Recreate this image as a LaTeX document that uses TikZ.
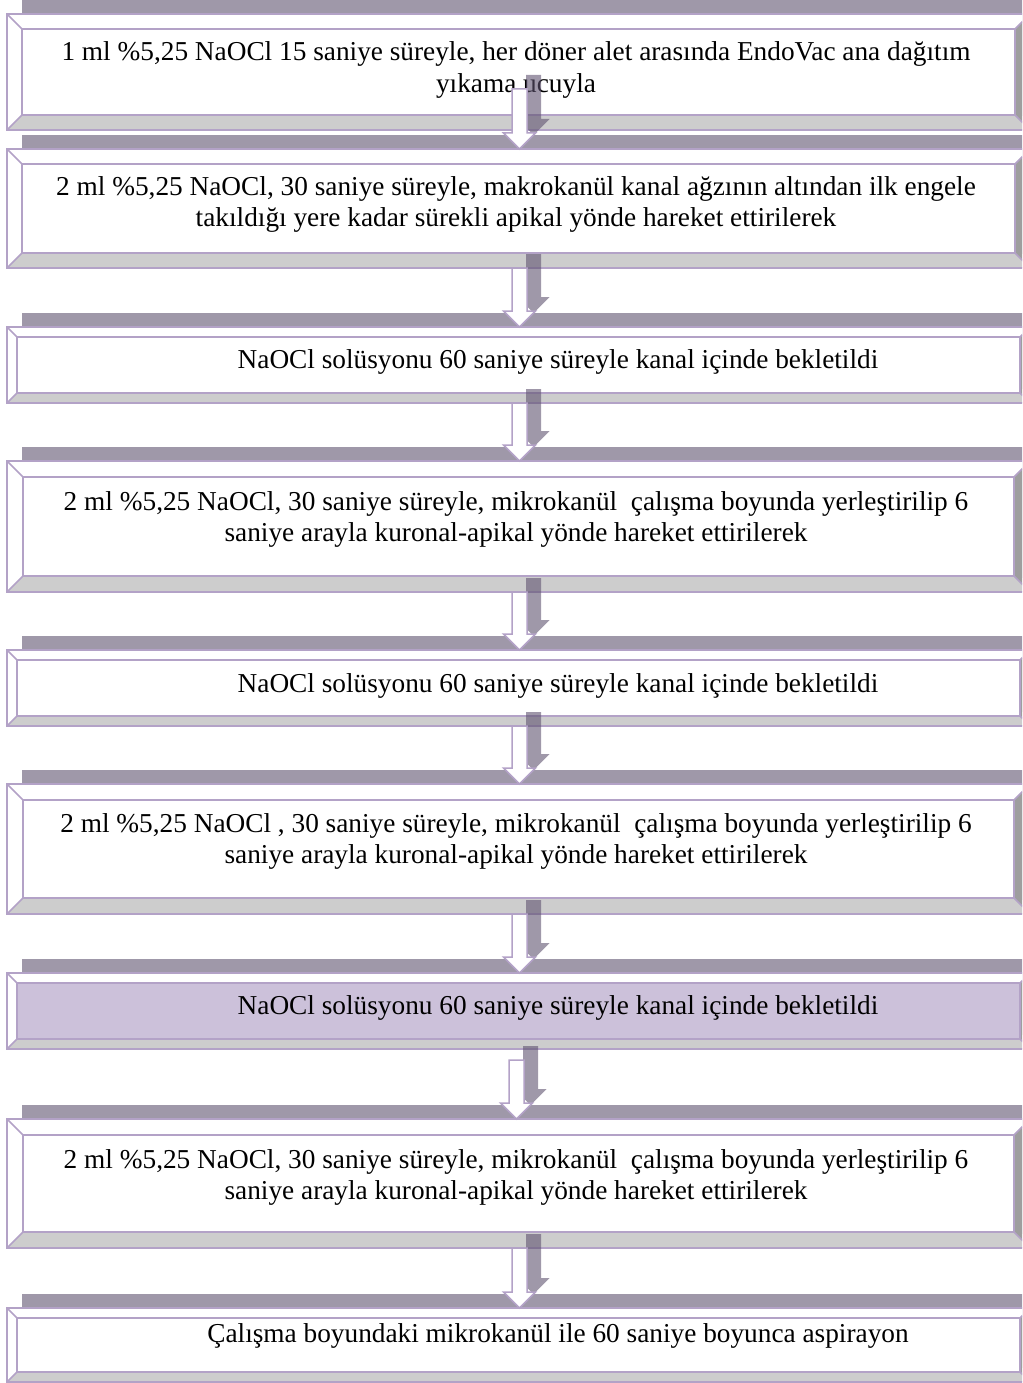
\documentclass[tikz,border=0pt]{standalone}
\usepackage{fontspec}
\setmainfont{Liberation Serif}
\usetikzlibrary{calc}
\definecolor{bevelline}{HTML}{B3A2C7}
\definecolor{barshade}{HTML}{5F5370}
\definecolor{facelow}{HTML}{CDCDCD}
\definecolor{faceright}{HTML}{9E9E9E}
\definecolor{lilac}{HTML}{CCC1DA}
\tikzset{
  stepbox/.style={minimum width=1023pt, minimum height=#1, inner sep=0pt, outer sep=0pt},
  txt/.style={align=center, font=\fontsize{27.3}{31.5}\selectfont, inner sep=0pt},
  shade/.style={fill=barshade, fill opacity=0.6},
  rim/.style={draw=bevelline, line width=1.5pt},
  arrbody/.style={draw=bevelline, line width=1.5pt, fill=white}
}
\newcommand\bevel[3]{%
  \fill[shade] ($(#1.north west)+(15,-14)$) rectangle ($(#1.south east)+(15,-14)$);
  \fill[white] (#1.north west) rectangle (#1.south east);
  \fill[facelow] (#1.south west) -- (#1.south east) -- ($(#1.south east)+(-#2,-#2)$) -- ($(#1.south west)+(#2,-#2)$) -- cycle;
  \fill[faceright] (#1.north east) -- (#1.south east) -- ($(#1.south east)+(-#2,-#2)$) -- ($(#1.north east)+(-#2,#2)$) -- cycle;
  \filldraw[rim, fill=#3] ($(#1.north west)+(#2,#2)$) rectangle ($(#1.south east)+(-#2,-#2)$);
  \draw[rim] (#1.north west) rectangle (#1.south east);
  \draw[rim] (#1.north west) -- ++(#2,#2) (#1.north east) -- ++(-#2,#2)
    (#1.south west) -- ++(#2,-#2) (#1.south east) -- ++(-#2,-#2);
}
\newcommand\flowarrow[2]{%
  \fill[shade] let \p1=#1, \p2=(#2.north) in
    (\x1+6.5pt,\y1+14pt) -- (\x1+21.5pt,\y1+14pt) -- (\x1+21.5pt,\y2+30pt) -- (\x1+30pt,\y2+30pt)
    -- (\x1+14pt,\y2+14pt) -- (\x1-2pt,\y2+30pt) -- (\x1+6.5pt,\y2+30pt) -- cycle;
  \filldraw[arrbody] let \p1=#1, \p2=(#2.north) in
    (\x1-7.5pt,\y1) -- (\x1+7.5pt,\y1) -- (\x1+7.5pt,\y2+16pt) -- (\x1+16pt,\y2+16pt)
    -- (\x1,\y2) -- (\x1-16pt,\y2+16pt) -- (\x1-7.5pt,\y2+16pt) -- cycle;
}
\begin{document}
\begin{tikzpicture}[x=1pt, y=-1pt]
  \useasboundingbox (0,0) rectangle (1022,1383);
  \clip (0,0) rectangle (1022,1383);

  \node[stepbox=116pt] (b1) at (518.5,72) {};
  \bevel{b1}{15}{white}
  \node[txt] (t1) at (516,70) {1 ml \%5,25 NaOCl 15 saniye süreyle, her döner alet arasında EndoVac ana dağıtım\\yıkama ucuyla};

  \node[stepbox=119pt] (b2) at (518.5,208.5) {};
  \bevel{b2}{15}{white}
  \node[txt] (t2) at (516,204.5) {2 ml \%5,25 NaOCl, 30 saniye süreyle, makrokanül kanal ağzının altından ilk engele\\takıldığı yere kadar sürekli apikal yönde hareket ettirilerek};

  \node[stepbox=76pt] (b3) at (518.5,365) {};
  \bevel{b3}{10}{white}
  \node[txt] (t3) at (558,362) {NaOCl solüsyonu 60 saniye süreyle kanal içinde bekletildi};

  \node[stepbox=131pt] (b4) at (518.5,526.5) {};
  \bevel{b4}{16}{white}
  \node[txt] (t4) at (516,519.5) {2 ml \%5,25 NaOCl, 30 saniye süreyle, mikrokanül~ çalışma boyunda yerleştirilip 6\\saniye arayla kuronal-apikal yönde hareket ettirilerek};

  \node[stepbox=76pt] (b5) at (518.5,688) {};
  \bevel{b5}{10}{white}
  \node[txt] (t5) at (558,686) {NaOCl solüsyonu 60 saniye süreyle kanal içinde bekletildi};

  \node[stepbox=130pt] (b6) at (518.5,849) {};
  \bevel{b6}{16}{white}
  \node[txt] (t6) at (516,841.5) {2 ml \%5,25 NaOCl , 30 saniye süreyle, mikrokanül~ çalışma boyunda yerleştirilip 6\\saniye arayla kuronal-apikal yönde hareket ettirilerek};

  \node[stepbox=76pt] (b7) at (518.5,1011) {};
  \bevel{b7}{10}{lilac}
  \node[txt] (t7) at (558,1008) {NaOCl solüsyonu 60 saniye süreyle kanal içinde bekletildi};

  \node[stepbox=129pt] (b8) at (518.5,1183.5) {};
  \bevel{b8}{16}{white}
  \node[txt] (t8) at (516,1177.5) {2 ml \%5,25 NaOCl, 30 saniye süreyle, mikrokanül~ çalışma boyunda yerleştirilip 6\\saniye arayla kuronal-apikal yönde hareket ettirilerek};

  \node[stepbox=74pt] (b9) at (518.5,1345) {};
  \bevel{b9}{10}{white}
  \node[txt] (t9) at (558,1336) {Çalışma boyundaki mikrokanül ile 60 saniye boyunca aspirayon};

  \flowarrow{($(b1.south)+(1,-41)$)}{b2}
  \flowarrow{($(b2.south)+(1,0)$)}{b3}
  \flowarrow{($(b3.south)+(1,0)$)}{b4}
  \flowarrow{($(b4.south)+(1,0)$)}{b5}
  \flowarrow{($(b5.south)+(1,0)$)}{b6}
  \flowarrow{($(b6.south)+(1,0)$)}{b7}
  \flowarrow{($(b7.south)+(-2,11)$)}{b8}
  \flowarrow{($(b8.south)+(1,0)$)}{b9}
\end{tikzpicture}
\end{document}
